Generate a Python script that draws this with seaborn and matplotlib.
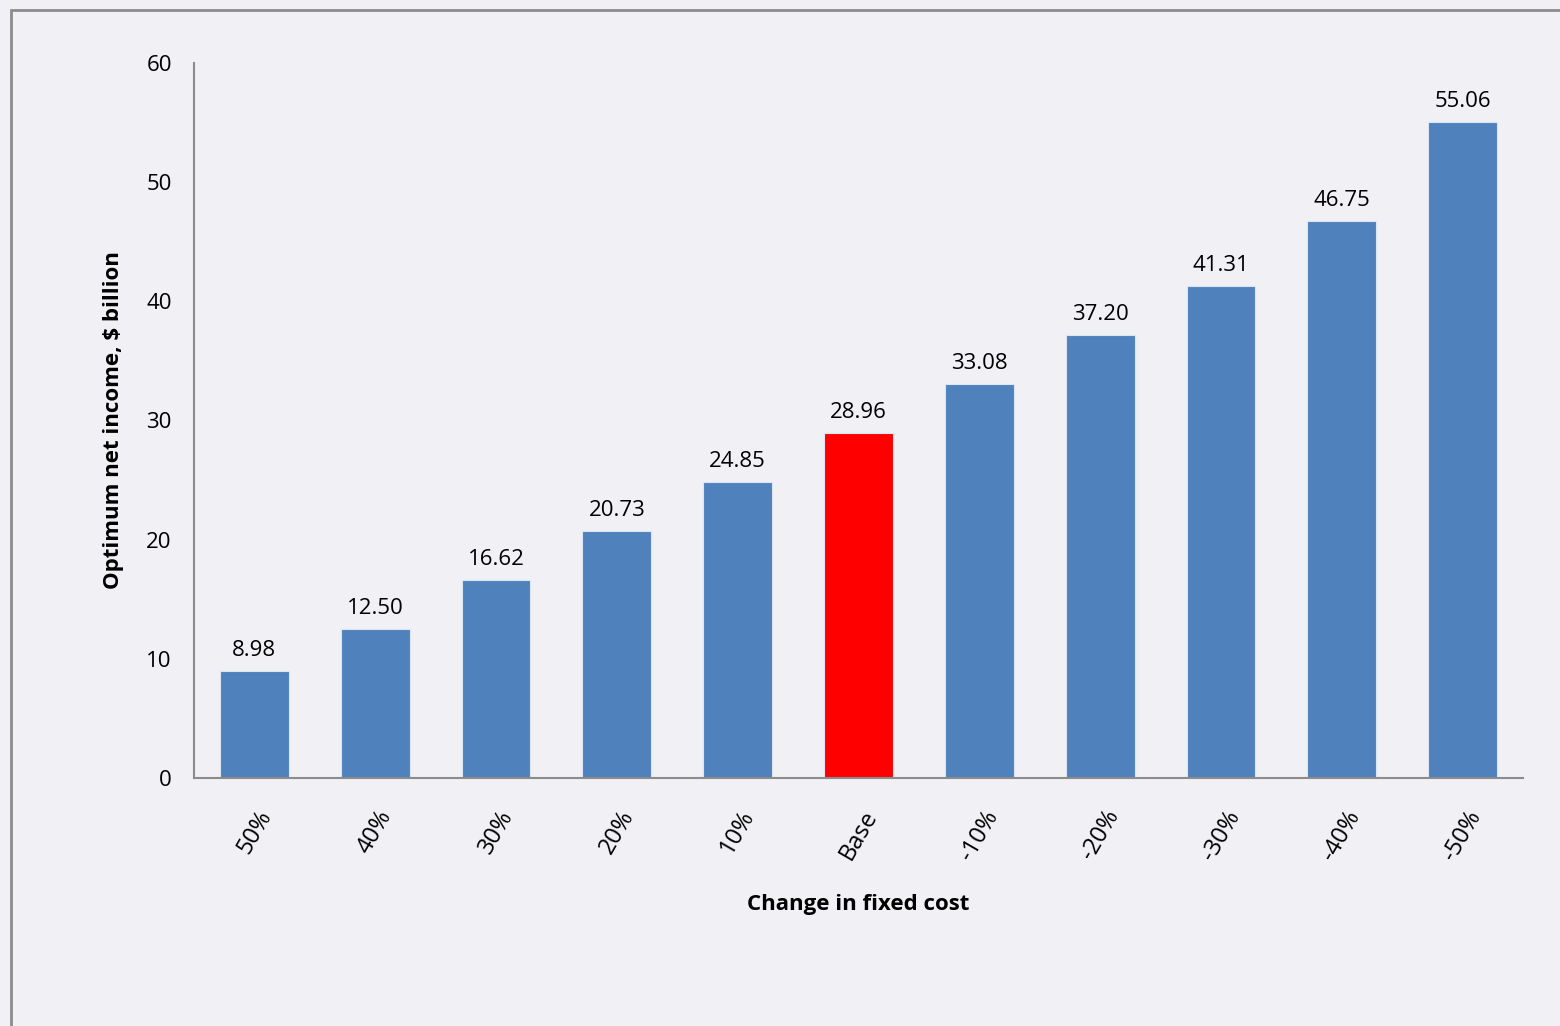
import matplotlib
matplotlib.use("Agg")
import matplotlib.pyplot as plt
import seaborn as sns
import pandas as pd
from matplotlib.patches import Rectangle

categories = ["50%", "40%", "30%", "20%", "10%", "Base", "-10%", "-20%", "-30%", "-40%", "-50%"]
values = [8.98, 12.50, 16.62, 20.73, 24.85, 28.96, 33.08, 37.20, 41.31, 46.75, 55.06]
value_labels = ["8.98", "12.50", "16.62", "20.73", "24.85", "28.96", "33.08", "37.20", "41.31", "46.75", "55.06"]
y_ticks = [0, 10, 20, 30, 40, 50, 60]

BG = "#F0F0F5"
BLUE = "#4F81BD"
RED = "#FF0000"

sns.set_theme(style="white")
plt.rcParams["font.family"] = ["Open Sans", "DejaVu Sans"]

df = pd.DataFrame({"cat": categories, "val": values})
palette = {c: (RED if c == "Base" else BLUE) for c in categories}

fig = plt.figure(figsize=(15.6, 10.26), dpi=100, facecolor=BG)
ax = fig.add_axes([194/1560, 1-778/1026, (1523-194)/1560, (778-63)/1026])
ax.set_facecolor(BG)

sns.barplot(data=df, x="cat", y="val", hue="cat", palette=palette, order=categories,
            width=0.57, legend=False, ax=ax, saturation=1, edgecolor="#DCE6F2", linewidth=0.8)

for p, lab in zip(ax.patches, value_labels):
    ax.annotate(lab, (p.get_x() + p.get_width()/2, p.get_height()),
                xytext=(0, 7), textcoords="offset points", ha="center", va="bottom",
                fontsize=16, color="black")

ax.set_ylim(0, 60)
ax.set_yticks(y_ticks)
ax.set_xlim(-0.5, len(categories) - 0.5)
ax.tick_params(axis="y", labelsize=16, length=0, pad=16, colors="black")
ax.tick_params(axis="x", labelsize=17, length=0, pad=20, colors="black")
plt.setp(ax.get_xticklabels(), rotation=60, ha="center", va="top", rotation_mode="default")

for s in ["top", "right"]:
    ax.spines[s].set_visible(False)
for s in ["left", "bottom"]:
    ax.spines[s].set_color("#8C8C8C")
    ax.spines[s].set_linewidth(1.5)

ax.set_xlabel("Change in fixed cost", fontsize=16, fontweight="bold", labelpad=21, color="black")
ax.set_ylabel("Optimum net income, $ billion", fontsize=16, fontweight="bold", labelpad=16, color="black")

fig.patches.append(Rectangle((11/1560, -0.1), 1.2, 1 - 10/1026 + 0.1, transform=fig.transFigure,
                             fill=False, edgecolor="#8C8C8C", linewidth=2))

fig.savefig("out.png", dpi=100, facecolor=BG)
